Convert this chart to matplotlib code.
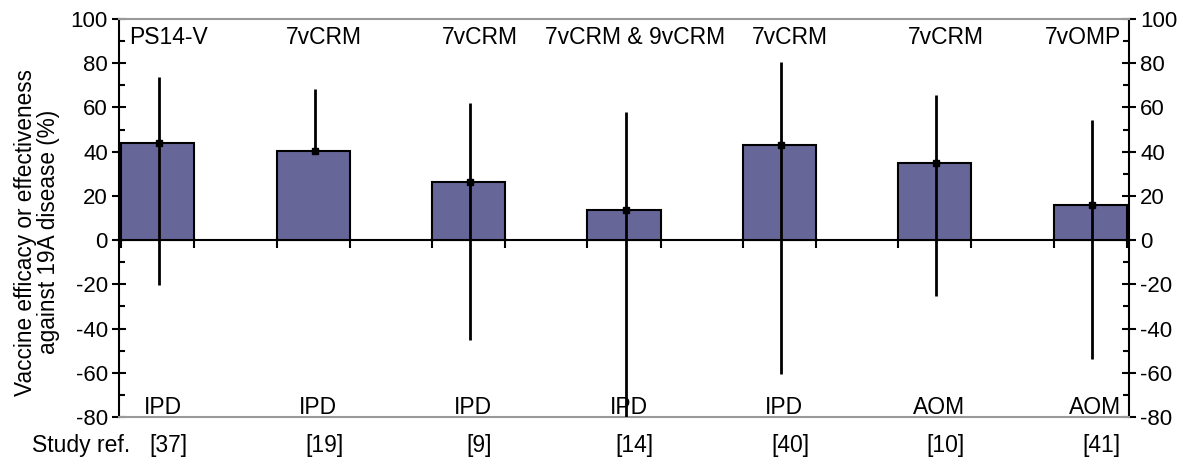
import matplotlib.pyplot as plt
import numpy as np
from matplotlib.ticker import MultipleLocator

plt.rcParams["font.family"] = ["Liberation Sans", "DejaVu Sans"]
plt.rcParams["axes.unicode_minus"] = False

vaccines = ["PS14-V", "7vCRM", "7vCRM", "7vCRM & 9vCRM", "7vCRM", "7vCRM", "7vOMP"]
outcomes = ["IPD", "IPD", "IPD", "IPD", "IPD", "AOM", "AOM"]
refs = ["[37]", "[19]", "[9]", "[14]", "[40]", "[10]", "[41]"]
efficacy = [44, 40.5, 26.5, 13.5, 43, 35, 16]
ci_low = [-20.5, None, -45, -90, -60.5, -25.5, -54]
ci_high = [73.8, 68.3, 62, 58, 80.5, 65.6, 54.3]

fig = plt.figure(figsize=(12, 4.69), dpi=100)
ax = fig.add_axes([0.0992, 0.1109, 0.8416, 0.8486])

x = np.arange(len(vaccines))
width = 0.47
ax.bar(x, efficacy, width, color="#666699", edgecolor="black", linewidth=1.5, zorder=2)

# error bars (study 2 has no visible lower bound below the zero line)
lo = np.array([v if v is not None else e for v, e in zip(ci_low, efficacy)])
ax.vlines(x + 0.01, lo, ci_high, color="black", linewidth=2, zorder=3)
ax.plot(x + 0.01, efficacy, "s", color="black", markersize=4, zorder=4)

# zero line with small marks at the bar edges
ax.axhline(0, color="black", linewidth=1.5, zorder=1)
edges = np.concatenate([x - width / 2, x + width / 2])
ax.vlines(edges, -3.5, 1.5, color="black", linewidth=1.5, zorder=1)

ax.set_xlim(-0.25, 6.25)
ax.set_ylim(-80, 100)
ax.set_xticks([])
ax.yaxis.set_major_locator(MultipleLocator(20))
ax.yaxis.set_minor_locator(MultipleLocator(10))
ax.tick_params(axis="y", which="major", direction="inout", length=10, width=1.5,
               labelsize=16, right=True, labelright=True, pad=3)
ax.tick_params(axis="y", which="minor", direction="in", length=4, width=1.5, right=True)

for side in ["left", "right"]:
    ax.spines[side].set_color("black")
    ax.spines[side].set_linewidth(1.5)
for side in ["top", "bottom"]:
    ax.spines[side].set_color("#999999")
    ax.spines[side].set_linewidth(1.5)

last = len(vaccines) - 1
for i, (xi, vac, out, ref) in enumerate(zip(x, vaccines, outcomes, refs)):
    if i == last:
        ax.text(6.2, 97, vac, ha="right", va="top", fontsize=16.5)
    else:
        ax.text(xi + 0.07, 97, vac, ha="center", va="top", fontsize=16.5)
    ax.text(xi + 0.03, -78.8, out, ha="center", va="baseline", fontsize=16.5)
    ax.text(xi + 0.07, -93, ref, ha="center", va="center", fontsize=16.5, clip_on=False)

fig.text(0.027, 0.051, "Study ref.", ha="left", va="center", fontsize=16.5)
fig.text(0.031, 0.505, "Vaccine efficacy or effectiveness\nagainst 19A disease (%)",
         rotation=90, ha="center", va="center", multialignment="center",
         fontsize=16.3, linespacing=1.0)

fig.savefig("out.png", dpi=100)
